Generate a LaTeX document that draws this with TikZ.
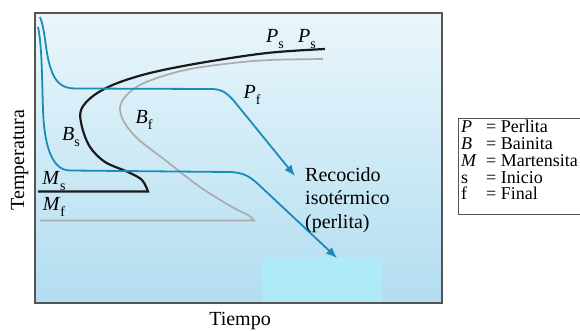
\documentclass[tikz,border=0pt]{standalone}
\usepackage{fontspec}
\setmainfont{Liberation Serif}
\usetikzlibrary{arrows.meta}
\definecolor{curveblue}{HTML}{1A8DB6}
\definecolor{curvegray}{HTML}{ABABAB}
\definecolor{curveblack}{HTML}{1A1A1A}
\definecolor{bgtop}{HTML}{EAF6FB}
\definecolor{bgbot}{HTML}{B2DDF1}
\definecolor{cyanpatch}{HTML}{AEEAF7}
\definecolor{framegray}{HTML}{555555}
\newcommand\mysub[1]{\raisebox{-0.28em}{\fontsize{14}{14}\selectfont #1}}
\tikzset{
  blueline/.style={draw=curveblue, line width=1.8pt, -{Latex[length=11pt,width=9pt]}},
  blackline/.style={draw=curveblack, line width=2.2pt},
  grayline/.style={draw=curvegray, line width=1.7pt},
  lbl/.style={inner sep=0pt, font=\fontsize{20}{20}\selectfont},
  bigtxt/.style={inner sep=0pt, font=\fontsize{20}{23.5}\selectfont},
  legtxt/.style={inner sep=0pt, anchor=base west, text height=0.66em, text depth=0.18em, font=\fontsize{18}{18}\selectfont}
}
\begin{document}
\begin{tikzpicture}[x=1pt,y=-1pt]
\useasboundingbox (0,0) rectangle (580,331);
\fill[white] (0,0) rectangle (580,331);
% plot area
\shade[top color=bgtop, bottom color=bgbot] (35,13) rectangle (442,303);
\fill[cyanpatch] (262,258) rectangle (382,303);
\draw[framegray, line width=1.4pt] (35,13) rectangle (442,303);

% gray curve (B_f / P_f start) with M_f line
\draw[grayline] plot[smooth, tension=0.55] coordinates {(323,59) (270,60) (233,63) (190,69) (160,77) (138,86) (125,97) (120,108) (124,122) (138,139) (165,160) (200,187) (232,207) (248,215) (254,220.5)} -- (40,220.5);

% black curve (B_s / P_s) with M_s line
\draw[blackline] plot[smooth, tension=0.55] coordinates {(325,49) (267,53) (200,63) (150,73) (115,84) (93,96) (81,110) (82,127) (90,147) (105,162) (128,172) (142,180) (148,191.5)} -- (38,191.5);

% blue cooling curves
\draw[blueline] (40,17) .. controls (46,32) and (45,55) .. (52,72) .. controls (56,82) and (62,88.5) .. (75,88.5) -- (212,89) .. controls (222,89) and (228,94) .. (234,101) -- (295,176);
\draw[blueline] (38,27) .. controls (42,45) and (42,80) .. (43,110) .. controls (44,140) and (50,170.5) .. (70,170.5) -- (228,172) .. controls (244,172) and (250,177) .. (258,184) -- (337,258);

% labels
\node[lbl] (ps1) at (275,39) {\textit{P}\mysub{s}};
\node[lbl] (ps2) at (307,39) {\textit{P}\mysub{s}};
\node[lbl] (pf) at (252,95) {\textit{P}\mysub{f}};
\node[lbl] (bs) at (71,137) {\textit{B}\mysub{s}};
\node[lbl] (bf) at (144,120) {\textit{B}\mysub{f}};
\node[lbl] (ms) at (54,181) {\textit{M}\mysub{s}};
\node[lbl] (mf) at (54,207) {\textit{M}\mysub{f}};

\node[bigtxt, anchor=base west] (rec1) at (305,181) {Recocido};
\node[bigtxt, anchor=base west] (rec2) at (305,204.5) {isotérmico};
\node[bigtxt, anchor=base west] (rec3) at (305,228) {(perlita)};

\node[bigtxt, anchor=base] (tiempo) at (240,325) {Tiempo};
\node[bigtxt, anchor=base, rotate=90] (temp) at (24,160) {Temperatura};

% legend
\draw[framegray, line width=1pt, fill=white] (458,119) rectangle (600,214);
\node[legtxt] (l1a) at (461,133) {\textit{P}};
\node[legtxt] (l1b) at (486,133) {= Perlita};
\node[legtxt] (l2a) at (461,149.5) {\textit{B}};
\node[legtxt] (l2b) at (486,149.5) {= Bainita};
\node[legtxt] (l3a) at (461,166) {\textit{M}};
\node[legtxt] (l3b) at (486,166) {= Martensita};
\node[legtxt] (l4a) at (461,183) {s};
\node[legtxt] (l4b) at (486,183) {= Inicio};
\node[legtxt] (l5a) at (461,199.5) {f};
\node[legtxt] (l5b) at (486,199.5) {= Final};
\end{tikzpicture}
\end{document}
